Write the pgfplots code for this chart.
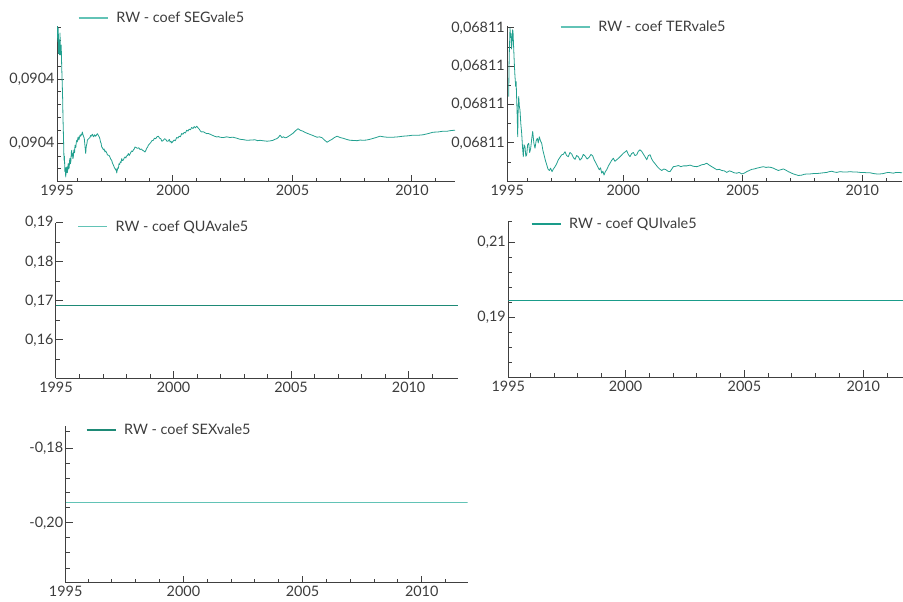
\documentclass[border=0pt]{standalone}
\usepackage{pgfplots}
\pgfplotsset{compat=1.18}
\usepackage{fontspec}
\setmainfont{Lato}
\definecolor{axisgray}{HTML}{404040}
\definecolor{labelgray}{HTML}{3C3C3C}
\definecolor{tealmid}{HTML}{22A08F}
\definecolor{teallight}{HTML}{62C3B6}
\definecolor{tealdark}{HTML}{1E8A76}
\definecolor{tealqui}{HTML}{1A9C8A}
\newcommand{\lblfont}{\fontsize{14.4}{16}\selectfont}
\pgfplotsset{
  myaxis/.style={
    scale only axis,
    axis lines=left,
    axis line style={draw=axisgray, line width=1pt, -},
    tick align=inside,
    major tick length=7pt,
    minor tick length=4pt,
    every tick/.style={draw=axisgray, line width=1pt},
    tick label style={font=\lblfont, text=labelgray},
    xticklabel style={yshift=0pt},
    yticklabel style={xshift=1pt},
    legend style={draw=none, fill=none, font=\lblfont, text=labelgray,
      inner sep=0pt, outer sep=0pt, anchor=west, column sep=8pt,
      nodes={inner sep=0pt}},
    legend image code/.code={\draw[##1] (0pt,0pt) -- (29pt,0pt);},
    minor xtick={1996,...,2011},
  }
}
\begin{document}
\begin{tikzpicture}[x=1pt,y=1pt]
\useasboundingbox (0,0) rectangle (903,602);

% ---------- Panel 1: SEG ----------
\begin{axis}[myaxis, at={(57pt,420pt)}, anchor=south west,
  width=398pt, height=156pt,
  xmin=1995.15, xmax=2011.8, ymin=-3.02, ymax=9.14,
  xtick={1995.15,2000,2005,2010}, xticklabels={1995,2000,2005,2010},
  ytick={0,5}, yticklabels={{0,0904},{0,0904}},
  minor ytick={-3,...,9},
  legend style={at={(0.0528,1.051)}}]
\addlegendimage{color=teallight, line width=1.4pt}
\addlegendentry{RW - coef SEGvale5}
\addplot[color=tealmid, line width=0.8pt, line join=round, forget plot] coordinates {
(1995.15,8.2)(1995.17,9.1)(1995.19,7.9)(1995.204,8.96)(1995.215,7.0)(1995.226,7.6)(1995.246,8.05)
(1995.26,6.9)(1995.276,8.59)(1995.29,7.4)(1995.305,6.88)(1995.326,7.66)(1995.347,5.96)(1995.37,4.6)
(1995.388,3.36)(1995.40,2.0)(1995.414,1.02)(1995.43,-0.2)(1995.443,-1.33)(1995.46,-1.0)(1995.48,-2.2)
(1995.50,-1.9)(1995.514,-2.63)(1995.535,-2.1)(1995.556,-1.85)(1995.57,-2.3)(1995.589,-2.27)
(1995.605,-1.8)(1995.623,-1.56)(1995.64,-2.0)(1995.66,-1.9)(1995.68,-1.3)(1995.694,-1.17)
(1995.71,-1.6)(1995.73,-1.4)(1995.75,-0.7)(1995.765,-0.55)(1995.78,-1.0)(1995.80,-0.8)
(1995.815,-1.2)(1995.832,-1.07)(1995.85,-0.6)(1995.87,-0.5)(1995.885,-0.75)(1995.903,-0.16)
(1995.92,-0.35)(1995.94,-0.3)(1995.955,0.05)(1995.974,0.23)(1996.0,0.1)(1996.02,0.4)(1996.041,0.49)
(1996.06,0.25)(1996.08,0.35)(1996.095,0.5)(1996.112,0.63)(1996.14,0.55)(1996.16,0.7)(1996.185,0.65)
(1996.209,0.88)(1996.23,0.7)(1996.25,0.6)(1996.27,0.5)(1996.292,0.37)(1996.32,-0.2)(1996.335,-0.5)
(1996.351,-0.80)(1996.37,-0.3)(1996.39,-0.1)(1996.405,0.0)(1996.418,0.23)(1996.445,0.3)(1996.47,0.35)
(1996.50,0.4)(1996.531,0.45)(1996.555,0.6)(1996.58,0.55)(1996.61,0.65)(1996.635,0.70)(1996.66,0.55)
(1996.69,0.5)(1996.715,0.66)(1996.740,0.63)(1996.765,0.55)(1996.79,0.6)(1996.82,0.7)(1996.845,0.74)
(1996.88,0.6)(1996.920,0.49)(1996.945,0.35)(1996.97,0.1)(1996.995,0.0)(1997.020,-0.29)(1997.05,-0.35)
(1997.09,-0.5)(1997.12,-0.45)(1997.158,-0.68)(1997.19,-0.6)(1997.23,-0.75)(1997.26,-0.9)(1997.296,-0.94)
(1997.33,-0.95)(1997.37,-1.1)(1997.40,-1.25)(1997.439,-1.33)(1997.47,-1.55)(1997.51,-1.7)(1997.54,-1.85)
(1997.577,-1.98)(1997.61,-2.1)(1997.63,-2.0)(1997.648,-2.32)(1997.67,-2.1)(1997.70,-1.9)(1997.72,-1.95)
(1997.744,-1.59)(1997.77,-1.65)(1997.80,-1.45)(1997.83,-1.5)(1997.857,-1.20)(1997.89,-1.35)(1997.93,-1.3)
(1997.96,-1.15)(1997.995,-1.07)(1998.03,-1.15)(1998.06,-1.0)(1998.10,-0.95)(1998.133,-0.80)(1998.17,-0.95)
(1998.2,-0.85)(1998.24,-0.7)(1998.276,-0.60)(1998.31,-0.65)(1998.35,-0.5)(1998.38,-0.45)(1998.414,-0.29)
(1998.47,-0.35)(1998.52,-0.4)(1998.57,-0.35)(1998.623,-0.49)(1998.68,-0.45)(1998.73,-0.55)(1998.78,-0.6)
(1998.832,-0.68)(1998.87,-0.55)(1998.90,-0.4)(1998.94,-0.3)(1998.970,-0.16)(1999.02,-0.05)(1999.07,0.05)
(1999.12,0.2)(1999.179,0.23)(1999.23,0.4)(1999.28,0.35)(1999.33,0.5)(1999.388,0.55)(1999.44,0.4)
(1999.49,0.35)(1999.54,0.15)(1999.598,0.23)(1999.65,0.35)(1999.70,0.3)(1999.75,0.15)(1999.807,0.18)
(1999.85,0.3)(1999.88,0.1)(1999.92,0.15)(1999.949,0.02)(2000.0,0.15)(2000.05,0.25)(2000.10,0.2)
(2000.158,0.45)(2000.21,0.4)(2000.26,0.55)(2000.31,0.5)(2000.368,0.76)(2000.42,0.7)(2000.47,0.85)
(2000.52,0.8)(2000.577,1.02)(2000.63,0.95)(2000.68,1.1)(2000.73,1.05)(2000.786,1.23)(2000.84,1.15)
(2000.89,1.3)(2000.94,1.2)(2000.995,1.33)(2001.05,1.2)(2001.10,1.1)(2001.15,0.95)(2001.204,0.88)
(2001.27,0.9)(2001.34,0.82)(2001.41,0.75)(2001.481,0.76)(2001.56,0.7)(2001.65,0.62)(2001.74,0.55)
(2001.832,0.49)(2001.90,0.52)(2001.970,0.47)(2002.1,0.44)(2002.25,0.50)(2002.38,0.45)(2002.514,0.47)
(2002.66,0.40)(2002.807,0.31)(2002.95,0.28)(2003.100,0.23)(2003.27,0.25)(2003.435,0.27)(2003.54,0.20)
(2003.644,0.23)(2003.79,0.19)(2003.937,0.16)(2004.06,0.18)(2004.188,0.23)(2004.26,0.3)(2004.34,0.35)
(2004.41,0.45)(2004.481,0.63)(2004.56,0.45)(2004.63,0.5)(2004.70,0.42)(2004.774,0.47)(2004.9,0.62)
(2005.025,0.78)(2005.13,0.98)(2005.234,1.13)(2005.34,1.0)(2005.443,0.94)(2005.52,0.85)(2005.610,0.78)
(2005.72,0.70)(2005.820,0.63)(2005.92,0.55)(2006.029,0.47)(2006.13,0.50)(2006.238,0.43)(2006.34,0.25)
(2006.448,0.08)(2006.55,0.2)(2006.657,0.31)(2006.76,0.45)(2006.866,0.55)(2006.99,0.45)(2007.117,0.39)
(2007.26,0.30)(2007.410,0.23)(2007.55,0.22)(2007.703,0.20)(2007.83,0.25)(2007.954,0.23)(2008.1,0.25)
(2008.247,0.31)(2008.45,0.42)(2008.665,0.55)(2008.81,0.50)(2008.958,0.47)(2009.209,0.47)(2009.42,0.50)
(2009.627,0.55)(2009.84,0.58)(2010.046,0.63)(2010.25,0.62)(2010.464,0.66)(2010.67,0.75)(2010.883,0.86)
(2011.09,0.88)(2011.301,0.94)(2011.45,0.93)(2011.594,0.98)(2011.8,1.02)
};
\end{axis}

% ---------- Panel 2: TER ----------
\begin{axis}[myaxis, at={(507.3pt,420pt)}, anchor=south west,
  width=394.7pt, height=156pt,
  xmin=1995.15, xmax=2011.66, ymin=-1.02, ymax=3.05,
  xtick={1995.15,2000,2005,2010}, xticklabels={1995,2000,2005,2010},
  ytick={0,1,2,3}, yticklabels={{0,06811},{0,06811},{0,06811},{0,06811}},
  minor ytick={-1,-0.5,0.5,1.5,2.5},
  legend style={at={(0.1335,0.994)}}]
\addlegendimage{color=teallight, line width=1.4pt}
\addlegendentry{RW - coef TERvale5}
\addplot[color=tealmid, line width=0.8pt, line join=round, forget plot] coordinates {
(1995.209,1.21)(1995.22,1.9)(1995.234,2.34)(1995.25,2.7)(1995.263,2.99)(1995.285,2.75)(1995.305,2.86)
(1995.325,2.45)(1995.347,2.60)(1995.37,2.95)(1995.389,2.91)(1995.415,2.5)(1995.443,2.08)(1995.47,1.75)
(1995.501,1.47)(1995.52,1.6)(1995.543,1.12)(1995.565,0.7)(1995.585,0.16)(1995.605,0.9)(1995.627,1.21)
(1995.655,0.95)(1995.681,0.86)(1995.715,0.5)(1995.752,0.25)(1995.785,-0.1)(1995.819,-0.36)(1995.85,-0.05)
(1995.890,-0.10)(1995.925,-0.35)(1995.962,-0.31)(1996.0,-0.05)(1996.045,-0.01)(1996.085,-0.25)
(1996.129,-0.14)(1996.17,0.1)(1996.213,0.30)(1996.26,0.0)(1996.309,-0.14)(1996.355,0.05)(1996.405,0.12)
(1996.445,0.0)(1996.489,0.16)(1996.54,0.05)(1996.589,-0.01)(1996.64,-0.2)(1996.686,-0.31)(1996.74,-0.45)
(1996.799,-0.57)(1996.85,-0.68)(1996.907,-0.72)(1996.96,-0.66)(1997.020,-0.75)(1997.08,-0.68)
(1997.146,-0.62)(1997.21,-0.55)(1997.284,-0.44)(1997.35,-0.38)(1997.426,-0.31)(1997.49,-0.30)
(1997.564,-0.23)(1997.63,-0.33)(1997.702,-0.36)(1997.77,-0.25)(1997.845,-0.29)(1997.91,-0.38)
(1997.983,-0.43)(1998.05,-0.33)(1998.121,-0.36)(1998.19,-0.45)(1998.263,-0.40)(1998.33,-0.30)
(1998.401,-0.34)(1998.49,-0.42)(1998.581,-0.37)(1998.65,-0.30)(1998.723,-0.34)(1998.79,-0.45)
(1998.861,-0.53)(1998.93,-0.62)(1998.999,-0.70)(1999.05,-0.65)(1999.100,-0.79)(1999.15,-0.74)
(1999.196,-0.84)(1999.25,-0.75)(1999.309,-0.70)(1999.38,-0.60)(1999.447,-0.53)(1999.51,-0.46)
(1999.585,-0.40)(1999.65,-0.48)(1999.727,-0.44)(1999.80,-0.40)(1999.865,-0.36)(1999.93,-0.32)
(2000.004,-0.27)(2000.07,-0.24)(2000.146,-0.20)(2000.21,-0.30)(2000.284,-0.36)(2000.35,-0.28)
(2000.422,-0.25)(2000.49,-0.33)(2000.564,-0.31)(2000.63,-0.22)(2000.702,-0.18)(2000.77,-0.22)
(2000.840,-0.29)(2000.91,-0.36)(2000.983,-0.44)(2001.05,-0.33)(2001.121,-0.31)(2001.19,-0.42)
(2001.259,-0.49)(2001.34,-0.55)(2001.426,-0.62)(2001.52,-0.68)(2001.610,-0.72)(2001.70,-0.68)
(2001.790,-0.70)(2001.87,-0.74)(2001.957,-0.75)(2002.095,-0.62)(2002.2,-0.61)(2002.305,-0.59)
(2002.41,-0.62)(2002.514,-0.60)(2002.65,-0.60)(2002.794,-0.58)(2002.93,-0.61)(2003.074,-0.62)
(2003.18,-0.60)(2003.283,-0.57)(2003.39,-0.56)(2003.493,-0.53)(2003.6,-0.58)(2003.702,-0.62)
(2003.81,-0.66)(2003.911,-0.70)(2004.02,-0.69)(2004.121,-0.72)(2004.23,-0.73)(2004.330,-0.77)
(2004.44,-0.73)(2004.539,-0.75)(2004.64,-0.78)(2004.748,-0.79)(2004.85,-0.77)(2004.958,-0.81)
(2005.06,-0.79)(2005.167,-0.75)(2005.27,-0.72)(2005.376,-0.69)(2005.48,-0.68)(2005.585,-0.66)
(2005.72,-0.64)(2005.861,-0.62)(2005.97,-0.64)(2006.071,-0.63)(2006.18,-0.64)(2006.280,-0.66)
(2006.38,-0.69)(2006.489,-0.72)(2006.59,-0.70)(2006.698,-0.68)(2006.80,-0.71)(2006.907,-0.75)
(2007.01,-0.78)(2007.117,-0.81)(2007.22,-0.83)(2007.326,-0.85)(2007.468,-0.84)(2007.57,-0.82)
(2007.677,-0.81)(2007.81,-0.81)(2007.953,-0.80)(2008.09,-0.80)(2008.234,-0.79)(2008.37,-0.78)
(2008.514,-0.77)(2008.62,-0.75)(2008.723,-0.74)(2008.83,-0.76)(2008.932,-0.77)(2009.07,-0.75)
(2009.209,-0.76)(2009.35,-0.76)(2009.489,-0.75)(2009.63,-0.76)(2009.769,-0.76)(2009.91,-0.77)
(2010.046,-0.77)(2010.19,-0.78)(2010.326,-0.78)(2010.47,-0.80)(2010.606,-0.81)(2010.74,-0.81)
(2010.883,-0.80)(2010.99,-0.78)(2011.092,-0.77)(2011.2,-0.78)(2011.301,-0.79)(2011.41,-0.77)
(2011.510,-0.77)(2011.66,-0.78)
};
\end{axis}

% ---------- Panel 3: QUA ----------
\begin{axis}[myaxis, at={(56pt,223.7pt)}, anchor=south west,
  width=402pt, height=155.6pt,
  xmin=1995, xmax=2012.1, ymin=0.1502, ymax=0.19,
  xtick={1995,2000,2005,2010}, xticklabels={1995,2000,2005,2010},
  ytick={0.16,0.17,0.18,0.19}, yticklabels={{0,16},{0,17},{0,18},{0,19}},
  minor ytick={0.155,0.165,0.175,0.185},
  legend style={at={(0.053,0.974)}}]
\addlegendimage{color=teallight, line width=1.4pt}
\addlegendentry{RW - coef QUAvale5}
\addplot[color=tealdark, line width=1.1pt, forget plot] coordinates {(1995,0.1688)(2012.1,0.1688)};
\end{axis}

% ---------- Panel 4: QUI ----------
\begin{axis}[myaxis, at={(508.3pt,224.7pt)}, anchor=south west,
  width=394.7pt, height=155.6pt,
  xmin=1995.07, xmax=2011.67, ymin=0.174, ymax=0.2156,
  xtick={1995.07,2000,2005,2010}, xticklabels={1995,2000,2005,2010},
  ytick={0.19,0.21}, yticklabels={{0,19},{0,21}},
  minor ytick={0.178,0.182,0.186,0.194,0.198,0.202,0.206,0.2156},
  legend style={at={(0.0575,0.985)}}]
\addlegendimage{color=tealqui, line width=1.2pt}
\addlegendentry{RW - coef QUIvale5}
\addplot[color=tealqui, line width=1.1pt, forget plot] coordinates {(1995.07,0.1946)(2011.67,0.1946)};
\end{axis}

% ---------- Panel 5: SEX ----------
\begin{axis}[myaxis, at={(65.7pt,19.3pt)}, anchor=south west,
  width=402pt, height=156.7pt,
  xmin=1995.06, xmax=2011.93, ymin=-0.2161, ymax=-0.174,
  xtick={1995.06,2000,2005,2010}, xticklabels={1995,2000,2005,2010},
  ytick={-0.20,-0.18}, yticklabels={{-0,20},{-0,18}},
  minor ytick={-0.2123,-0.208,-0.204,-0.196,-0.192,-0.188,-0.184,-0.1755},
  legend style={at={(0.0505,0.974)}}]
\addlegendimage{color=tealdark, line width=1.2pt}
\addlegendentry{RW - coef SEXvale5}
\addplot[color=teallight, line width=1.3pt, forget plot] coordinates {(1995.06,-0.1945)(2011.93,-0.1945)};
\end{axis}
\end{tikzpicture}
\end{document}
